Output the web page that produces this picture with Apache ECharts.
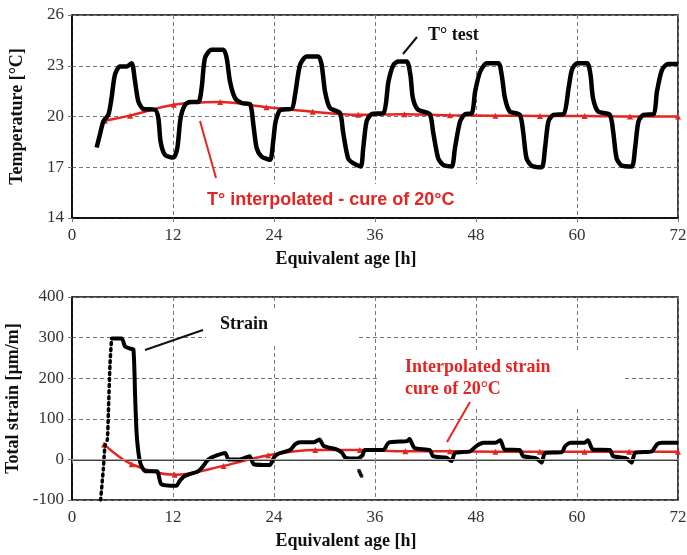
<!DOCTYPE html>
<html><head><meta charset="utf-8">
<script src="https://cdn.jsdelivr.net/npm/echarts@6/dist/echarts.min.js"></script>
<style>html,body{margin:0;padding:0;background:#fff}#c{width:687px;height:555px}</style>
</head><body><div id="c"></div>
<script>
// ---- data ----
var xTicks = [0, 12, 24, 36, 48, 60, 72];
var tempTicks = [14, 17, 20, 23, 26];
var strainTicks = [-100, 0, 100, 200, 300, 400];

var tempTest = [[2.93,18.17],[3.3,18.9],[3.72,19.7],[4.32,20.1],[4.7,21.1],[5.1,22.47],[5.7,22.96],[6.5,22.96],[7.09,23.15],[7.49,22.07],[7.88,20.9],[8.47,20.45],[9.86,20.4],[10.26,19.9],[10.53,18.5],[11.05,17.73],[12.04,17.57],[12.51,18.13],[12.9,19.9],[13.43,20.69],[14.02,20.85],[15.0,20.85],[15.4,21.68],[15.8,23.45],[16.6,23.95],[17.98,23.95],[18.38,23.45],[18.77,22.07],[19.37,21.09],[20.16,20.8],[21.15,20.73],[21.55,19.5],[21.94,18.13],[22.53,17.63],[23.52,17.44],[23.9,18.5],[24.15,19.6],[24.5,20.2],[24.8,20.4],[26.1,20.45],[26.5,21.28],[27.1,23.06],[27.9,23.55],[29.26,23.55],[29.66,23.06],[30.06,21.48],[30.65,20.5],[31.84,20.2],[32.2,19.1],[32.8,17.54],[33.4,17.24],[34.3,17.04],[34.6,18.13],[35.0,19.7],[35.6,20.14],[37.0,20.2],[37.6,22.07],[38.2,23.06],[38.8,23.25],[39.76,23.25],[40.2,22.47],[40.5,21.09],[41.1,20.4],[42.5,20.14],[42.9,19.1],[43.5,17.54],[44.1,17.14],[45.1,17.04],[45.5,18.13],[46.1,19.7],[46.7,20.14],[47.5,20.18],[47.9,21.48],[48.5,22.66],[49.3,23.15],[50.65,23.15],[51.05,22.47],[51.44,21.09],[52.0,20.3],[53.2,20.1],[53.6,19.1],[54.0,17.54],[54.6,17.1],[55.8,17.0],[56.2,18.13],[56.6,19.7],[57.2,20.1],[58.4,20.14],[59.0,21.68],[59.4,22.76],[60.0,23.15],[61.2,23.15],[61.6,22.47],[61.9,21.09],[62.5,20.3],[63.9,20.1],[64.3,19.1],[64.7,17.54],[65.3,17.1],[66.5,17.04],[66.9,18.13],[67.3,19.7],[67.9,20.1],[69.1,20.14],[69.5,21.48],[70.1,22.76],[70.8,23.1],[72,23.1]];

var tempInterp = [[3.9,19.75],[6.9,20.05],[12.1,20.7],[17.6,20.85],[23.1,20.55],[28.6,20.28],[34.0,20.1],[39.5,20.13],[44.9,20.07],[50.3,20.05],[55.6,20.03],[60.9,20.03],[66.3,20.0],[72,20.0]];

var strainRise = [[3.4,-100],[3.72,-24],[3.92,33],[4.2,49],[4.32,114],[4.52,237],[4.7,298]];

var strainTest = [[4.7,298],[5.9,298],[6.3,278],[6.9,273],[7.3,270],[7.5,155],[7.7,57],[8.1,-8],[8.7,-29],[10.1,-29],[10.6,-61],[12.4,-65],[12.8,-53],[13.4,-41],[15.0,-29],[15.6,-16],[16.2,0],[17.2,10],[18.2,16],[18.6,0],[19.96,0],[21.1,8],[21.6,-12],[23.5,-14],[24.0,5],[24.5,14],[25.9,23],[26.5,37],[27.1,42],[28.7,42],[29.4,49],[29.9,33],[31.5,24],[32.1,16],[32.5,4],[33.9,2],[34.5,10],[34.8,23],[37.0,23],[37.6,41],[39.8,45],[40.1,50],[40.7,28],[42.5,23],[42.9,8],[44.5,4],[45.1,-4],[45.5,16],[47.3,20],[48.1,34],[48.9,41],[50.3,41],[50.9,47],[51.4,24],[53.2,23],[53.6,8],[55.2,2],[55.8,-8],[56.2,16],[58.2,18],[58.6,33],[59.2,41],[60.9,41],[61.3,47],[61.9,24],[63.9,23],[64.3,8],[65.9,2],[66.5,-8],[66.9,16],[68.9,20],[69.5,37],[70.1,41],[72,41]];

var strainOutlier = [[34.1,-28],[34.2,-32],[34.3,-37],[34.4,-41]];

var strainInterp = [[3.8,37],[7.1,-12],[12.2,-38],[18.0,-16],[23.3,10],[28.9,23],[34.2,23],[39.6,20],[44.9,20],[50.3,19],[55.6,19],[60.9,19],[66.2,19],[72,19]];

// ---- chart ----
var RED = '#e52521';
var serif = '"Liberation Serif", "Times New Roman", serif';
var sans = '"Liberation Sans", Arial, sans-serif';
var chart = echarts.init(document.getElementById('c'), null, {renderer: 'canvas'});

function xAxisCfg(gi) {
  return {
    type: 'value', gridIndex: gi, min: xTicks[0], max: xTicks[xTicks.length-1], interval: 12,
    name: 'Equivalent age [h]', nameLocation: 'middle', nameGap: 32,
    nameTextStyle: {fontFamily: serif, fontWeight: 'bold', fontSize: 18, color: '#111', padding: [0, 58, 0, 0]},
    axisLine: {show: true, lineStyle: {color: '#000', width: 1.5}},
    axisTick: {show: true, length: 4, lineStyle: {color: '#777'}},
    axisLabel: {fontFamily: serif, fontSize: 17, color: '#333', margin: 9},
    splitLine: {show: true, lineStyle: {color: '#777', type: [4, 3], width: 1}}
  };
}
function yAxisCfg(gi, ticks, name, interval) {
  return {
    type: 'value', gridIndex: gi, min: ticks[0], max: ticks[ticks.length-1], interval: interval,
    name: name, nameLocation: 'middle', nameGap: 46,
    nameTextStyle: {fontFamily: serif, fontWeight: 'bold', fontSize: 18, color: '#111'},
    axisLine: {show: true, lineStyle: {color: '#000', width: 1.5}},
    axisTick: {show: true, length: 4, lineStyle: {color: '#777'}},
    axisLabel: {fontFamily: serif, fontSize: 17, color: '#333', margin: 8},
    splitLine: {show: true, lineStyle: {color: '#777', type: [4, 3], width: 1}}
  };
}

var option = {
  backgroundColor: '#fff',
  animation: false,
  grid: [
    {left: 72, right: 9, top: 15, height: 203, show: true, borderColor: '#000', borderWidth: 1.5, backgroundColor: 'transparent', containLabel: false, outerBoundsMode: 'none'},
    {left: 72, right: 9, top: 297, height: 203, show: true, borderColor: '#000', borderWidth: 1.5, backgroundColor: 'transparent', containLabel: false, outerBoundsMode: 'none'}
  ],
  xAxis: [xAxisCfg(0), xAxisCfg(1)],
  yAxis: [
    yAxisCfg(0, tempTicks, 'Temperature [°C]', 3),
    yAxisCfg(1, strainTicks, 'Total strain [µm/m]', 100)
  ],
  series: [
    {type: 'line', xAxisIndex: 0, yAxisIndex: 0, data: tempInterp, smooth: 0.35,
     symbol: 'triangle', symbolSize: 6, showSymbol: true,
     lineStyle: {color: RED, width: 2.5}, itemStyle: {color: RED}, z: 3},
    {type: 'line', xAxisIndex: 0, yAxisIndex: 0, data: tempTest, smooth: 0.25,
     showSymbol: false, lineStyle: {color: '#000', width: 4.5}, z: 4},
    {type: 'line', xAxisIndex: 1, yAxisIndex: 1, data: strainInterp, smooth: 0.35,
     symbol: 'triangle', symbolSize: 6, showSymbol: true,
     lineStyle: {color: RED, width: 2.5}, itemStyle: {color: RED}, z: 3,
     markLine: {silent: true, symbol: 'none', label: {show: false},
       lineStyle: {color: '#aaa', type: 'solid', width: 1}, data: [{yAxis: 0}]}},
    {type: 'line', xAxisIndex: 1, yAxisIndex: 1, data: strainRise, smooth: 0.2,
     showSymbol: false, lineStyle: {color: '#000', width: 3.5, type: [2, 4], cap: 'round'}, z: 4},
    {type: 'line', xAxisIndex: 1, yAxisIndex: 1, data: strainTest, smooth: 0.2,
     showSymbol: false, lineStyle: {color: '#000', width: 4}, z: 4},
    {type: 'scatter', xAxisIndex: 1, yAxisIndex: 1, data: strainOutlier,
     symbolSize: 4, itemStyle: {color: '#000'}, z: 4}
  ],
  graphic: [
    // white boxes behind annotations (interrupting grid lines)
    {type: 'rect', z: 1, shape: {x: 420, y: 18, width: 70, height: 32}, style: {fill: '#fff'}},
    {type: 'rect', z: 1, shape: {x: 200, y: 184, width: 282, height: 32}, style: {fill: '#fff'}},
    {type: 'rect', z: 1, shape: {x: 206, y: 310, width: 150, height: 36}, style: {fill: '#fff'}},
    {type: 'rect', z: 1, shape: {x: 380, y: 350, width: 242, height: 58}, style: {fill: '#fff'}},
    // annotations
    {type: 'text', z: 100, x: 428, y: 35, style: {text: 'T° test', font: 'bold 18px ' + serif, fill: '#111', textVerticalAlign: 'middle'}},
    {type: 'line', z: 100, shape: {x1: 403, y1: 54, x2: 417, y2: 37}, style: {stroke: '#111', lineWidth: 2}},
    {type: 'text', z: 100, x: 207, y: 200, style: {text: 'T° interpolated - cure of 20°C', font: 'bold 18px ' + sans, fill: RED, textVerticalAlign: 'middle'}},
    {type: 'line', z: 100, shape: {x1: 200, y1: 121, x2: 216, y2: 178}, style: {stroke: RED, lineWidth: 2}},
    {type: 'text', z: 100, x: 220, y: 324, style: {text: 'Strain', font: 'bold 18px ' + serif, fill: '#111', textVerticalAlign: 'middle'}},
    {type: 'line', z: 100, shape: {x1: 145, y1: 350, x2: 203, y2: 330}, style: {stroke: '#111', lineWidth: 2}},
    {type: 'text', z: 100, x: 405, y: 367, style: {text: 'Interpolated strain', font: 'bold 18px ' + serif, fill: RED, textVerticalAlign: 'middle'}},
    {type: 'text', z: 100, x: 405, y: 389, style: {text: 'cure of 20°C', font: 'bold 18px ' + serif, fill: RED, textVerticalAlign: 'middle'}},
    {type: 'line', z: 100, shape: {x1: 470, y1: 402, x2: 447, y2: 442}, style: {stroke: RED, lineWidth: 2}}
  ]
};
chart.setOption(option);
</script></body></html>
